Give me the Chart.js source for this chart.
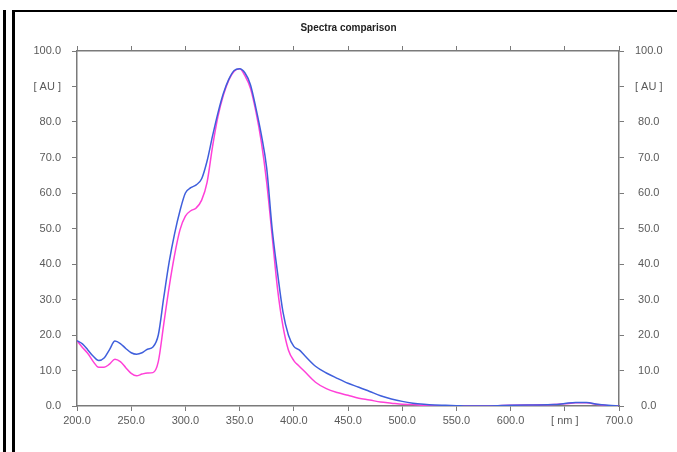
<!DOCTYPE html>
<html>
<head>
<meta charset="utf-8">
<script src="https://cdn.jsdelivr.net/npm/chart.js@4"></script>
<style>
  html, body { margin: 0; padding: 0; background: #fff; }
  body { width: 677px; height: 452px; position: relative; overflow: hidden; }
  #wrap { position: absolute; left: 20px; top: 0; width: 657px; height: 452px; }
  .bar { position: absolute; background: #000; }
</style>
</head>
<body>
<div id="wrap"><canvas id="spectraChart"></canvas></div>
<!-- black frame lines on the left / top -->
<div class="bar" style="left:3px; top:10px; width:3px; height:442px;"></div>
<div class="bar" style="left:12px; top:10px; width:3px; height:442px;"></div>
<div class="bar" style="left:12px; top:10px; width:665px; height:2px;"></div>
<script>
// wavelengths (nm) shared by both spectra
const wavelengths = [200, 205, 210, 215, 220, 225, 230, 235, 240, 245, 250, 255, 260, 265, 270, 275,
  280, 285, 290, 295, 300, 305, 310, 315, 320, 325, 330, 335, 340, 345, 350, 355, 360, 365, 370, 375,
  380, 385, 390, 395, 400, 405, 410, 420, 430, 440, 450, 460, 470, 480, 490, 500, 510, 520, 530, 540,
  550, 560, 580, 600, 620, 640, 650, 660, 670, 680, 690, 700];

// blue spectrum (AU)
const blueSpectrum = [18.4, 17.5, 15.8, 14.0, 12.8, 13.5, 15.9, 18.3, 17.6, 16.2, 15.0, 14.6, 15.0, 16.0, 16.6, 20.0,
  30.5, 40.5, 48.5, 55.0, 60.0, 61.5, 62.3, 64.0, 69.0, 76.0, 82.5, 88.0, 92.0, 94.5, 95.0, 93.8, 90.5, 84.0, 76.5, 67.0,
  50.0, 37.5, 26.5, 20.0, 16.8, 15.8, 14.2, 11.2, 9.3, 7.8, 6.4, 5.3, 4.1, 2.9, 2.0, 1.3, 0.8, 0.5, 0.3, 0.2,
  0.1, 0.0, 0.0, 0.2, 0.3, 0.4, 0.7, 1.0, 1.0, 0.5, 0.2, 0.0];

// magenta spectrum (AU)
const magentaSpectrum = [18.4, 16.5, 14.8, 12.5, 10.9, 10.9, 11.8, 13.2, 12.5, 10.8, 9.2, 8.5, 9.0, 9.3, 9.4, 12.5,
  23.0, 33.5, 42.5, 49.6, 53.5, 55.0, 55.8, 58.0, 63.0, 73.0, 81.5, 87.5, 91.8, 94.3, 95.0, 93.0, 89.5, 83.0, 74.5, 63.0,
  48.0, 33.0, 22.5, 15.8, 12.8, 11.2, 9.7, 6.7, 4.9, 3.8, 3.0, 2.2, 1.7, 1.1, 0.8, 0.5, 0.4, 0.2, 0.1, 0.1,
  0.0, 0.0, 0.0, 0.2, 0.3, 0.4, 0.6, 0.9, 0.9, 0.4, 0.1, 0.0];

// tick labels
const xTickLabels = ['200.0', '250.0', '300.0', '350.0', '400.0', '450.0', '500.0', '550.0', '600.0', '[ nm ]', '700.0'];
const yTickLabels = ['0.0', '10.0', '20.0', '30.0', '40.0', '50.0', '60.0', '70.0', '80.0', '[ AU ]', '100.0'];

const AXIS = '#7a7a7a';
const TEXT = '#5a5a5a';
const FONT = "'Liberation Sans', Arial, sans-serif";

const toPoints = vals => wavelengths.map((w, i) => ({ x: w, y: vals[i] }));

// shared axis settings
function yAxis(pos, width) {
  return {
    type: 'linear', position: pos, min: 0, max: 100,
    afterFit: s => { s.width = width; },
    border: { color: AXIS, width: 1.5 },
    grid: { drawOnChartArea: false, drawTicks: true, tickLength: 5, color: AXIS },
    ticks: {
      stepSize: 10, padding: 11, color: TEXT,
      crossAlign: pos === 'left' ? 'near' : 'center',
      font: { family: FONT, size: 11 },
      callback: (v, i) => yTickLabels[i]
    }
  };
}

new Chart(document.getElementById('spectraChart'), {
  type: 'line',
  data: {
    datasets: [
      {
        label: 'Spectrum A',
        data: toPoints(blueSpectrum),
        borderColor: '#3f5fdc',
        borderWidth: 1.5,
        pointRadius: 0,
        cubicInterpolationMode: 'monotone',
        xAxisID: 'x', yAxisID: 'y'
      },
      {
        label: 'Spectrum B',
        data: toPoints(magentaSpectrum),
        borderColor: '#ff40d8',
        borderWidth: 1.5,
        pointRadius: 0,
        cubicInterpolationMode: 'monotone',
        xAxisID: 'x', yAxisID: 'y'
      }
    ]
  },
  options: {
    responsive: true,
    maintainAspectRatio: false,
    animation: false,
    layout: { padding: 0 },
    plugins: {
      legend: { display: false },
      tooltip: { enabled: false },
      title: {
        display: true,
        text: 'Spectra comparison',
        color: '#222',
        font: { family: FONT, size: 10, weight: 'bold', lineHeight: 1.2 },
        padding: { top: 22, bottom: 0 }
      }
    },
    scales: {
      x: {
        type: 'linear', position: 'bottom', min: 200, max: 700,
        afterFit: s => { s.height = 46; },
        border: { color: AXIS, width: 1.5 },
        grid: { drawOnChartArea: false, drawTicks: true, tickLength: 5, color: AXIS },
        ticks: {
          stepSize: 50, padding: 3, color: TEXT, maxRotation: 0, autoSkip: false,
          font: { family: FONT, size: 11 },
          callback: (v, i) => xTickLabels[i]
        }
      },
      xTop: {
        type: 'linear', position: 'top', min: 200, max: 700,
        afterFit: s => { s.height = 17; },
        border: { color: AXIS, width: 1.5 },
        grid: { drawOnChartArea: false, drawTicks: true, tickLength: 5, color: AXIS },
        ticks: { stepSize: 50, display: false }
      },
      y: yAxis('left', 57),
      yRight: yAxis('right', 58)
    }
  }
});
</script>
</body>
</html>
